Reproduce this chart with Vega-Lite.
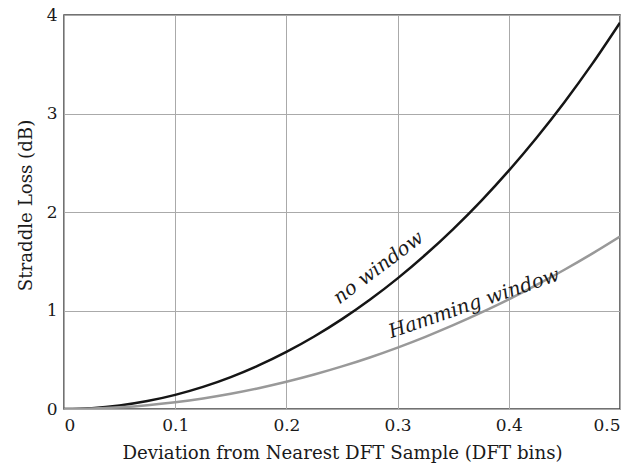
{
  "$schema": "https://vega.github.io/schema/vega-lite/v6.json",
  "width": 556,
  "height": 394,
  "autosize": "none",
  "padding": {"left": 64, "top": 15, "right": 15, "bottom": 61},
  "background": "white",
  "config": {
    "font": "DejaVu Serif",
    "view": {"stroke": "#444", "strokeWidth": 1.5},
    "axis": {
      "domain": false,
      "ticks": false,
      "gridColor": "#aaa",
      "gridWidth": 1,
      "gridOpacity": 1,
      "labelFont": "DejaVu Serif",
      "labelFontSize": 17,
      "labelColor": "#1a1a1a",
      "titleFont": "DejaVu Serif",
      "titleFontSize": 18.2,
      "titleFontWeight": "normal",
      "titleColor": "#1a1a1a"
    }
  },
  "datasets": {
    "curves": [
      {"d": 0, "loss": 0, "series": "no window"},
      {"d": 0.025, "loss": 0.0089, "series": "no window"},
      {"d": 0.05, "loss": 0.0358, "series": "no window"},
      {"d": 0.075, "loss": 0.0805, "series": "no window"},
      {"d": 0.1, "loss": 0.1434, "series": "no window"},
      {"d": 0.125, "loss": 0.2244, "series": "no window"},
      {"d": 0.15, "loss": 0.3239, "series": "no window"},
      {"d": 0.175, "loss": 0.4421, "series": "no window"},
      {"d": 0.2, "loss": 0.5793, "series": "no window"},
      {"d": 0.225, "loss": 0.7358, "series": "no window"},
      {"d": 0.25, "loss": 0.9121, "series": "no window"},
      {"d": 0.275, "loss": 1.1087, "series": "no window"},
      {"d": 0.3, "loss": 1.3263, "series": "no window"},
      {"d": 0.325, "loss": 1.5654, "series": "no window"},
      {"d": 0.35, "loss": 1.8267, "series": "no window"},
      {"d": 0.375, "loss": 2.1112, "series": "no window"},
      {"d": 0.4, "loss": 2.4201, "series": "no window"},
      {"d": 0.425, "loss": 2.7541, "series": "no window"},
      {"d": 0.45, "loss": 3.1148, "series": "no window"},
      {"d": 0.475, "loss": 3.5037, "series": "no window"},
      {"d": 0.5, "loss": 3.9224, "series": "no window"},
      {"d": 0, "loss": 0, "series": "Hamming"},
      {"d": 0.025, "loss": 0.0043, "series": "Hamming"},
      {"d": 0.05, "loss": 0.0173, "series": "Hamming"},
      {"d": 0.075, "loss": 0.0387, "series": "Hamming"},
      {"d": 0.1, "loss": 0.069, "series": "Hamming"},
      {"d": 0.125, "loss": 0.1077, "series": "Hamming"},
      {"d": 0.15, "loss": 0.1552, "series": "Hamming"},
      {"d": 0.175, "loss": 0.2114, "series": "Hamming"},
      {"d": 0.2, "loss": 0.2763, "series": "Hamming"},
      {"d": 0.225, "loss": 0.3499, "series": "Hamming"},
      {"d": 0.25, "loss": 0.4323, "series": "Hamming"},
      {"d": 0.275, "loss": 0.5234, "series": "Hamming"},
      {"d": 0.3, "loss": 0.6237, "series": "Hamming"},
      {"d": 0.325, "loss": 0.7328, "series": "Hamming"},
      {"d": 0.35, "loss": 0.8507, "series": "Hamming"},
      {"d": 0.375, "loss": 0.9777, "series": "Hamming"},
      {"d": 0.4, "loss": 1.1126, "series": "Hamming"},
      {"d": 0.425, "loss": 1.2593, "series": "Hamming"},
      {"d": 0.45, "loss": 1.414, "series": "Hamming"},
      {"d": 0.475, "loss": 1.578, "series": "Hamming"},
      {"d": 0.5, "loss": 1.7514, "series": "Hamming"}
    ]
  },
  "layer": [
    {
      "data": {"name": "curves"},
      "mark": {"type": "line", "strokeWidth": 2.5, "interpolate": "monotone", "clip": true},
      "encoding": {
        "x": {
          "field": "d", "type": "quantitative",
          "scale": {"domain": [0, 0.5], "nice": false},
          "axis": {"values": [0, 0.1, 0.2, 0.3, 0.4, 0.5], "title": "Deviation from Nearest DFT Sample (DFT bins)", "labelPadding": 8, "titlePadding": 11, "format": "~g"}
        },
        "y": {
          "field": "loss", "type": "quantitative",
          "scale": {"domain": [0, 4], "nice": false},
          "axis": {"values": [0, 1, 2, 3, 4], "format": "d", "title": "Straddle Loss (dB)", "labelPadding": 7, "titlePadding": 11, "titleY": 190}
        },
        "color": {
          "field": "series", "type": "nominal",
          "scale": {"domain": ["no window", "Hamming"], "range": ["#151515", "#999999"]},
          "legend": null
        },
        "detail": {"field": "series"}
      }
    },
    {
      "data": {"values": [
        {"d": 0.286, "loss": 1.386, "label": "no window", "angle": -37},
        {"d": 0.3705, "loss": 1.015, "label": "Hamming window", "angle": -19}
      ]},
      "mark": {"type": "text", "font": "DejaVu Serif", "fontStyle": "italic", "fontSize": 19.5, "color": "#1a1a1a", "align": "center", "baseline": "alphabetic"},
      "encoding": {
        "x": {"field": "d", "type": "quantitative"},
        "y": {"field": "loss", "type": "quantitative"},
        "text": {"field": "label"},
        "angle": {"field": "angle", "type": "quantitative", "scale": null}
      }
    }
  ]
}
